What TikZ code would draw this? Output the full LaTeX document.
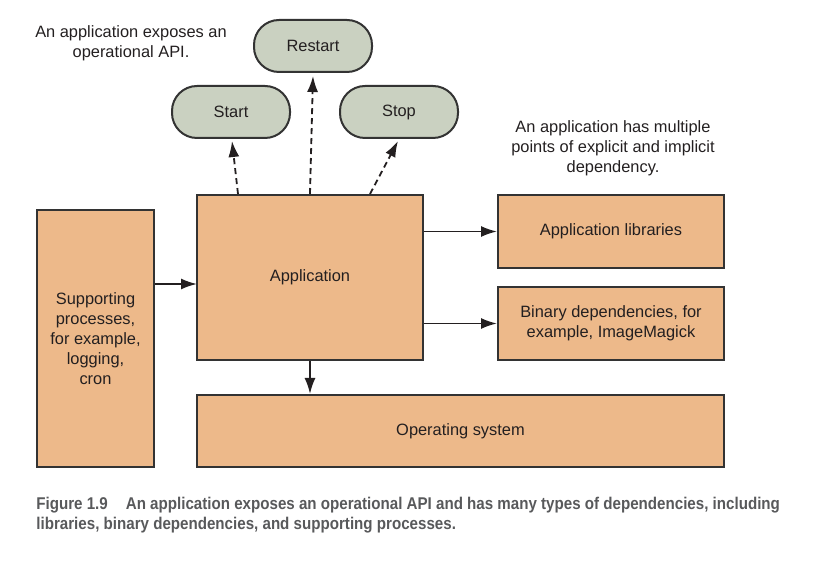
\documentclass[tikz,border=0pt]{standalone}
\usepackage{fontspec}
\setmainfont{Liberation Sans}
\newfontfamily\capfont[FakeStretch=0.89]{Liberation Sans}
\usetikzlibrary{arrows.meta}
\usetikzlibrary{positioning}

\definecolor{boxorange}{HTML}{EDB98A}
\definecolor{apigreen}{HTML}{CAD1C1}
\definecolor{edgegray}{HTML}{333333}
\definecolor{inkdark}{HTML}{231F20}
\definecolor{capgray}{HTML}{58595B}

\tikzset{
  depbox/.style = {draw=edgegray, line width=1pt, fill=boxorange, align=center, text=inkdark},
  apibox/.style = {draw=edgegray, line width=1pt, fill=apigreen, rounded corners=12.5pt,
                   minimum width=59pt, minimum height=26pt, text=inkdark},
  note/.style = {align=center, text=inkdark},
  link/.style = {line width=0.9pt, draw=inkdark, -{Latex[length=8pt,width=5.5pt]}},
  apilink/.style = {link, dash pattern=on 3pt off 2pt}
}

\begin{document}
\begin{tikzpicture}[x=0.5pt, y=-0.5pt, font=\fontsize{8.2}{10}\selectfont]
  \useasboundingbox (0,0) rectangle (827,561);

  \node[note] (apinote) at (131,43) {An application exposes an\\operational API.};
  \node[note] (depnote) at (613,148) {An application has multiple\\points of explicit and implicit\\dependency.};

  \node[apibox] (restart) at (313,46) {Restart};
  \node[apibox] (start) at (231,112) {Start};
  \node[apibox] (stop) at (399,112) {Stop};

  \node[depbox, minimum width=113pt, minimum height=82.5pt] (app) at (310,277.5) {Application};
  \node[depbox, minimum width=58.5pt, minimum height=128.5pt] (sup) at (95.5,338.5)
    {Supporting\\processes,\\for example,\\logging,\\cron};
  \node[depbox, minimum width=113pt, minimum height=36.5pt] (libs) at (611,231.5) {Application libraries};
  \node[depbox, minimum width=113pt, minimum height=36.5pt] (bins) at (611,323.5)
    {Binary dependencies, for\\example, ImageMagick};
  \node[depbox, minimum width=263.5pt, minimum height=36pt] (os) at (460.5,431) {Operating system};

  % operational API
  \coordinate (startfoot) at (232,141);
  \coordinate (stopfoot) at (398,141);
  \draw[apilink] ([xshift=-36pt]app.north) -- (startfoot);
  \draw[apilink] (app.north) -- ([yshift=-1.5pt]restart.south);
  \draw[apilink] ([xshift=30pt]app.north) -- (stopfoot);

  % dependencies
  \coordinate (supin) at (197,284);
  \draw[link] (sup.east |- supin) -- (supin);
  \draw[link] (app.east |- libs.west) -- (libs.west);
  \draw[link] (app.east |- bins.west) -- (bins.west);
  \draw[link] (app.south) -- (app.south |- os.north);

  \node[anchor=west, align=left, inner sep=0pt, text=capgray, font=\capfont\bfseries\fontsize{8.5}{10}\selectfont] (caption) at (36,515)
    {Figure 1.9\hspace{9pt}An application exposes an operational API and has many types of dependencies, including\\
     libraries, binary dependencies, and supporting processes.};
\end{tikzpicture}
\end{document}
